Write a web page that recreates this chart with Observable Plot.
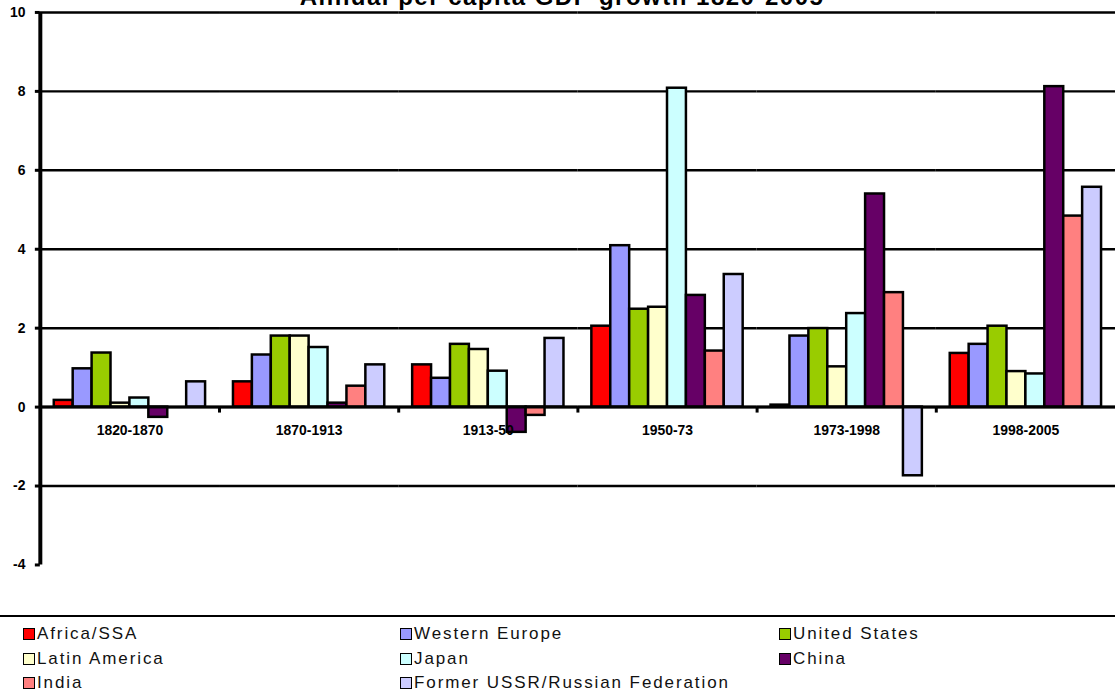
<!DOCTYPE html>
<html>
<head>
<meta charset="utf-8">
<script src="https://cdn.jsdelivr.net/npm/d3@7"></script>
<script src="https://cdn.jsdelivr.net/npm/@observablehq/plot@0.6"></script>
<style>
  html, body { margin: 0; padding: 0; background: #fff; overflow: hidden; }
  body { position: relative; width: 1115px; height: 691px; font-family: "Liberation Sans", Arial, sans-serif; }
  #title {
    position: absolute; left: 0; width: 1124px; top: -15px; text-align: center;
    font-size: 24px; line-height: 24px; font-weight: bold; letter-spacing: 1.5px; color: #000;
    z-index: 2;
  }
  #chart { position: absolute; left: 0; top: 0; }
  #legend {
    position: absolute; left: 0; top: 615px; width: 1115px; height: 76px;
    border-top: 2px solid #000; box-sizing: border-box; padding-top: 5px;
  }
  .row { position: relative; height: 24.5px; }
  .item { position: absolute; top: 0; height: 24.5px; line-height: 24.5px; font-size: 17px; letter-spacing: 1.9px; color: #111; white-space: nowrap; }
  .sw { display: inline-block; width: 12px; height: 12px; box-sizing: border-box; border: 1.5px solid #000; vertical-align: -1px; margin-right: 2px; }
</style>
</head>
<body>
<div id="title">Annual per capita GDP growth 1820-2005</div>
<div id="chart"></div>
<div id="legend"></div>
<script>
// Periods on the category axis
const periods = ["1820-1870", "1870-1913", "1913-50", "1950-73", "1973-1998", "1998-2005"];

// Regions, in legend / bar order
const seriesNames = ["Africa/SSA", "Western Europe", "United States", "Latin America", "Japan", "China", "India", "Former USSR/Russian Federation"];
const seriesColors = ["#ff0000", "#9999ff", "#99cc00", "#ffffcc", "#ccffff", "#660066", "#ff8080", "#ccccff"];

// Annual per capita GDP growth (%), one value per period
const africa        = [0.17, 0.64, 1.07, 2.05, 0.05, 1.36];
const westernEurope = [0.97, 1.32, 0.73, 4.09, 1.80, 1.59];
const unitedStates  = [1.37, 1.80, 1.59, 2.48, 1.99, 2.05];
const latinAmerica  = [0.10, 1.80, 1.46, 2.53, 1.02, 0.90];
const japan         = [0.23, 1.51, 0.91, 8.08, 2.37, 0.84];
const china         = [-0.26, 0.10, -0.64, 2.83, 5.40, 8.12];
const india         = [0.00, 0.53, -0.21, 1.42, 2.90, 4.84];
const ussr          = [0.64, 1.07, 1.74, 3.36, -1.74, 5.57];
const seriesValues = [africa, westernEurope, unitedStates, latinAmerica, japan, china, india, ussr];

// Value axis
const yTicks = [-4, -2, 0, 2, 4, 6, 8, 10];
const gridValues = [-2, 0, 2, 4, 6, 8, 10];

const data = periods.flatMap((p, i) =>
  seriesNames.map((s, j) => ({period: p, series: s, value: seriesValues[j][i]}))
);
const firstSeries = seriesNames[0];
const lastSeries = seriesNames[seriesNames.length - 1];

const chart = Plot.plot({
  width: 1120,
  height: 600,
  marginLeft: 40,
  marginRight: 0,
  marginTop: 12,
  marginBottom: 33,
  style: {fontFamily: "'Liberation Sans', Arial, sans-serif", background: "transparent", color: "#000"},
  fx: {domain: periods, padding: 0, axis: null, round: false},
  x: {domain: seriesNames, paddingInner: 0, paddingOuter: 0.737, axis: null, round: false},
  y: {domain: [-4, 10]},
  color: {domain: seriesNames, range: seriesColors},
  marks: [
    Plot.ruleY(gridValues, {stroke: "#000", strokeWidth: 2.5}),
    Plot.barY(data, {fx: "period", x: "series", y: "value", fill: "series", stroke: "#000", strokeWidth: 2.5}),
    Plot.ruleY([0], {stroke: "#000", strokeWidth: 3}),
    // category separators below the zero line
    Plot.ruleX(periods.slice(0, -1), {fx: d => d, x: () => lastSeries, y1: () => 0, y2: () => 0, dx: 23.5, insetBottom: -6, stroke: "#000", strokeWidth: 3}),
    // value axis line along the left edge of the first period
    Plot.ruleX(periods.slice(0, 1), {fx: d => d, x: () => firstSeries, dx: -23.5, stroke: "#000", strokeWidth: 4}),
    Plot.text(periods, {fx: d => d, y: () => 0, text: d => d, dy: 24, fontSize: 14, fontWeight: "bold", fill: "#000"}),
    Plot.axisY({ticks: yTicks, tickSize: 5, tickPadding: 10, stroke: "#000", strokeWidth: 3, fontSize: 14, fontWeight: "bold", label: null, tickFormat: d => String(d)})
  ]
});
document.getElementById("chart").appendChild(chart);

// Legend: three columns, filled row by row
const legend = document.getElementById("legend");
const colX = [23, 400, 779];
for (let r = 0; r * 3 < seriesNames.length; r++) {
  const row = document.createElement("div");
  row.className = "row";
  for (let c = 0; c < 3; c++) {
    const k = r * 3 + c;
    if (k >= seriesNames.length) break;
    const item = document.createElement("div");
    item.className = "item";
    item.style.left = colX[c] + "px";
    const sw = document.createElement("span");
    sw.className = "sw";
    sw.style.background = seriesColors[k];
    item.appendChild(sw);
    item.appendChild(document.createTextNode(seriesNames[k]));
    row.appendChild(item);
  }
  legend.appendChild(row);
}
</script>
</body>
</html>
